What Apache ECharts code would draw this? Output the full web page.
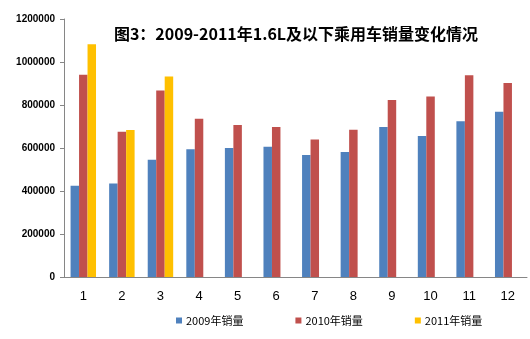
<!DOCTYPE html>
<html><head><meta charset="utf-8">
<script src="https://cdn.jsdelivr.net/npm/echarts@6/dist/echarts.min.js"></script>
<style>html,body{margin:0;padding:0;background:#fff}#c{width:530px;height:339px}</style>
</head><body><div id="c"></div>
<script>
var categories = ['1','2','3','4','5','6','7','8','9','10','11','12'];
var sales2009 = [425000,435000,545000,594000,600000,606000,567000,581000,698000,656000,724000,769000];
var sales2010 = [941000,676000,868000,736000,707000,698000,640000,685000,823000,840000,938000,902000];
var sales2011 = [1082000,684000,932000,null,null,null,null,null,null,null,null,null];
var seriesNames = ['2009年销量','2010年销量','2011年销量'];
var yTicks = {min:0, max:1200000, interval:200000};

var chart = echarts.init(document.getElementById('c'), null, {renderer:'canvas'});
var colors = ['#4F81BD','#C0504D','#FFC000'];
var data = [sales2009, sales2010, sales2011];
chart.setOption({
  animation:false,
  title:{text:'图3：2009-2011年1.6L及以下乘用车销量变化情况', left:291, top:21, textAlign:'center',
    textStyle:{fontFamily:'Noto Sans CJK SC', fontSize:16, fontWeight:'bold', color:'#000'}},
  legend:{left:171, top:310, itemWidth:6, itemHeight:6, itemGap:52, icon:'rect',
    textStyle:{fontFamily:'Noto Sans CJK SC', fontSize:11, color:'#000', padding:[0,0,0,-1]},
    data:seriesNames},
  grid:{left:64, right:3, top:19, bottom:62},
  xAxis:{type:'category', data:categories,
    axisLine:{lineStyle:{color:'#868686'}},
    axisTick:{length:4, lineStyle:{color:'#868686'}},
    axisLabel:{fontFamily:'Liberation Sans', fontSize:13, color:'#000', margin:13}},
  yAxis:{type:'value', min:yTicks.min, max:yTicks.max, interval:yTicks.interval,
    axisLine:{show:true, lineStyle:{color:'#868686'}},
    axisTick:{show:true, length:4, lineStyle:{color:'#868686'}},
    splitLine:{show:false},
    axisLabel:{fontFamily:'Liberation Sans', fontSize:10, fontWeight:'bold', color:'#000', margin:9,
      formatter:function(v){return String(v);}}},
  series: seriesNames.map(function(n,i){
    return {name:n, type:'bar', data:data[i], barGap:'0%', barCategoryGap:'34%',
      itemStyle:{color:colors[i]}};
  })
});
</script></body></html>
